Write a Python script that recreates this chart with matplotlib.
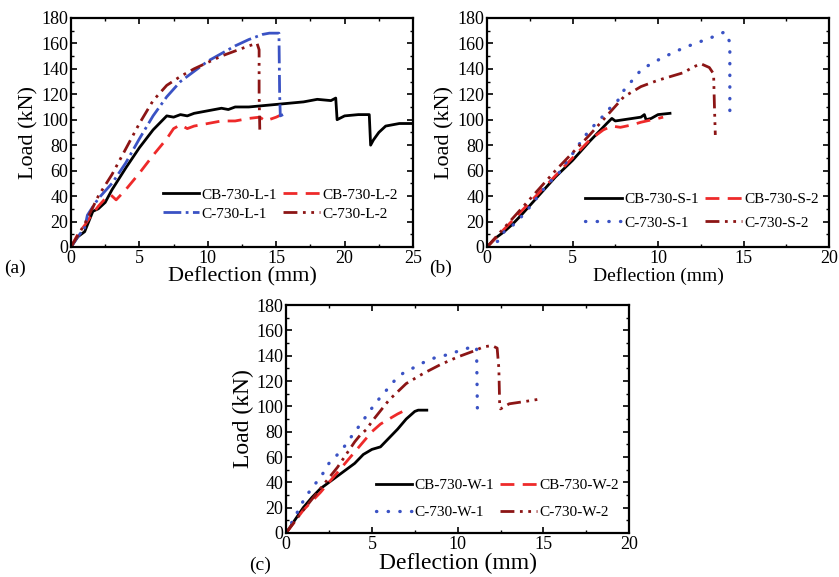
import matplotlib
matplotlib.use('Agg')
import matplotlib.pyplot as plt
from matplotlib.ticker import MultipleLocator

plt.rcParams['font.family'] = ['Liberation Serif', 'DejaVu Serif']

# ---- panel (a): L specimens ----
a_cb1_x = [0, 0.5, 1, 1.3, 1.6, 2, 2.5, 3, 4, 5, 6, 7, 7.5, 8, 8.5, 9, 10, 11, 11.5, 12, 13, 14, 15, 16, 17, 18, 19, 19.35, 19.45, 20, 21, 21.8, 21.9, 22.1, 22.5, 23, 24, 25]
a_cb1_y = [0, 8, 12, 20, 28, 30, 35, 45, 62, 78, 92, 103, 102, 104, 103, 105, 107, 109, 108, 110, 110, 111, 112, 113, 114, 116, 115, 117, 100, 103, 104, 104, 80, 84, 90, 95, 97, 97]
a_cb2_x = [0, 0.5, 1, 1.5, 2, 2.5, 2.9, 3.3, 4, 5, 6, 7, 7.5, 8, 8.5, 9, 10, 11, 12, 13, 13.8, 14.2, 15, 15.4]
a_cb2_y = [0, 10, 17, 25, 32, 38, 41, 37, 45, 58, 72, 85, 93, 96, 93, 95, 97, 99, 99, 101, 102, 99, 102, 104]
a_c1_x = [0, 0.5, 1, 1.2, 1.5, 2, 3, 4, 5, 6, 7, 8, 9, 10, 11, 12, 13, 14, 14.5, 15.2, 15.25, 15.3, 15.5]
a_c1_y = [0, 8, 15, 25, 30, 38, 50, 66, 85, 103, 118, 130, 138, 146, 152, 158, 163, 167, 168, 168, 120, 103, 104]
a_c2_x = [0, 1, 2, 3, 4, 5, 6, 7, 8, 9, 10, 11, 12, 13, 13.6, 13.75, 13.75, 13.8]
a_c2_y = [0, 18, 40, 57, 77, 97, 115, 127, 134, 140, 145, 150, 154, 158, 160, 155, 120, 92]

# ---- panel (b): S specimens ----
b_cb1_x = [0, 0.5, 1, 1.5, 2, 3, 4, 5, 6, 7, 7.3, 7.5, 8, 8.5, 9, 9.2, 9.3, 9.6, 10, 10.7]
b_cb1_y = [0, 7, 12, 18, 25, 40, 55, 68, 83, 97, 101, 99, 100, 101, 102, 104, 100, 101, 104, 105]
b_cb2_x = [0, 1, 2, 3, 4, 5, 6, 6.8, 7.3, 7.8, 8.5, 9, 10, 10.3]
b_cb2_y = [0, 14, 28, 42, 56, 70, 84, 92, 95, 94, 96, 98, 101, 102]
b_c1_x = [0, 0.7, 1, 1.6, 2.1, 2.6, 3.1, 3.6, 4.2, 4.6, 5.1, 5.5, 6, 6.6, 7.1, 7.6, 8, 8.5, 9, 9.6, 10.3, 11.1, 11.6, 12.4, 13.2, 13.9, 14.2, 14.2]
b_c1_y = [0, 5, 12, 18, 25, 33, 42, 50, 58, 66, 75, 83, 92, 100, 108, 114, 123, 131, 139, 144, 149, 154, 157, 161, 165, 169, 161, 106]
b_c2_x = [0, 1, 2, 3, 4, 5, 6, 7, 8, 9, 10, 11, 11.5, 12, 12.5, 13, 13.25, 13.3, 13.35]
b_c2_y = [0, 15, 30, 45, 60, 74, 88, 103, 118, 126, 131, 135, 137, 141, 144, 141, 136, 110, 88]

# ---- panel (c): W specimens ----
c_cb1_x = [0, 0.5, 1, 1.5, 2, 2.5, 3, 3.5, 4, 4.5, 5, 5.5, 6, 6.5, 7, 7.5, 7.7, 8.2]
c_cb1_y = [0, 10, 20, 28, 35, 40, 45, 50, 55, 62, 66, 68, 75, 82, 90, 96, 97, 97]
c_cb2_x = [0, 1, 2, 3, 4, 4.5, 5, 5.5, 6, 6.5, 6.8]
c_cb2_y = [0, 18, 32, 48, 64, 72, 80, 86, 90, 94, 96]
c_c1_x = [0, 0.4, 0.8, 1.1, 1.6, 2.1, 2.5, 3, 3.5, 3.9, 4.4, 4.8, 5.3, 5.8, 6.3, 6.8, 7.5, 8.2, 8.8, 9.5, 10.1, 10.6, 11.1, 11.15]
c_c1_y = [0, 10, 20, 28, 37, 46, 55, 62, 70, 78, 87, 95, 104, 112, 120, 126, 131, 136, 139, 141, 144, 146, 147, 97]
c_c2_x = [0, 1, 2, 3, 4, 4.3, 4.7, 5, 6, 7, 8, 9, 10, 11, 11.5, 12, 12.3, 12.4, 12.45, 12.5, 13, 14, 14.9]
c_c2_y = [0, 18, 35, 52, 72, 77, 82, 88, 105, 118, 126, 133, 139, 144, 147, 148, 146, 130, 100, 98, 102, 104, 106]

black = '#000000'
red = '#ee2a2a'
blue = '#3a52c4'
dred = '#8c1515'
ls_dash = (0, (5, 3))
ls_dd = (0, (5, 2, 1, 2, 1, 2))
ls_dot = (0, (0.1, 3.4))


def style_axes(ax, xmax):
    ax.set_xlim(0, xmax)
    ax.set_ylim(0, 180)
    ax.xaxis.set_major_locator(MultipleLocator(5))
    ax.xaxis.set_minor_locator(MultipleLocator(2.5))
    ax.yaxis.set_major_locator(MultipleLocator(20))
    ax.yaxis.set_minor_locator(MultipleLocator(10))
    ax.tick_params(which='both', direction='in', top=True, right=True, labelsize=13, pad=2)
    ax.tick_params(which='major', length=4, width=1.2)
    ax.tick_params(which='minor', length=2.5, width=1)
    for s in ax.spines.values():
        s.set_linewidth(1.6)


def add_legend(ax, anchor, spacing):
    h, l = ax.get_legend_handles_labels()
    order = [0, 2, 1, 3]  # rows: CB-1 CB-2 / C-1 C-2
    ax.legend([h[i] for i in order], [l[i] for i in order], loc='lower right',
              bbox_to_anchor=anchor, ncol=2, frameon=False, fontsize=11,
              handlelength=2.4, handletextpad=0.15, columnspacing=0.4,
              borderaxespad=0, borderpad=0, labelspacing=spacing)


fig = plt.figure(figsize=(8.39, 5.77), dpi=100)

# (a)
ax1 = fig.add_axes([0.0846, 0.572, 0.4077, 0.397])
ax1.plot(a_cb1_x, a_cb1_y, color=black, lw=2, ls='-', label='CB-730-L-1')
ax1.plot(a_cb2_x, a_cb2_y, color=red, lw=2, ls=ls_dash, label='CB-730-L-2')
ax1.plot(a_c1_x, a_c1_y, color=blue, lw=2, ls='-.', label='C-730-L-1')
ax1.plot(a_c2_x, a_c2_y, color=dred, lw=2, ls=ls_dd, label='C-730-L-2')
style_axes(ax1, 25)
ax1.set_xlabel('Deflection (mm)', fontsize=16, labelpad=0)
ax1.set_ylabel('Load (kN)', fontsize=16, labelpad=2)
add_legend(ax1, (0.955, 0.115), 0.35)
fig.text(0.005, 0.527, '(a)', fontsize=14)

# (b)
ax2 = fig.add_axes([0.5805, 0.572, 0.4076, 0.397])
ax2.plot(b_cb1_x, b_cb1_y, color=black, lw=2, ls='-', label='CB-730-S-1')
ax2.plot(b_cb2_x, b_cb2_y, color=red, lw=2, ls=ls_dash, label='CB-730-S-2')
ax2.plot(b_c1_x, b_c1_y, color=blue, lw=2.4, ls=ls_dot, dash_capstyle='round', label='C-730-S-1')
ax2.plot(b_c2_x, b_c2_y, color=dred, lw=2, ls=ls_dd, label='C-730-S-2')
style_axes(ax2, 20)
ax2.set_xlabel('Deflection (mm)', fontsize=14, labelpad=0)
ax2.set_ylabel('Load (kN)', fontsize=16, labelpad=2)
add_legend(ax2, (0.97, 0.075), 0.65)
fig.text(0.512, 0.527, '(b)', fontsize=14)

# (c)
ax3 = fig.add_axes([0.341, 0.0763, 0.409, 0.395])
ax3.plot(c_cb1_x, c_cb1_y, color=black, lw=2, ls='-', label='CB-730-W-1')
ax3.plot(c_cb2_x, c_cb2_y, color=red, lw=2, ls=ls_dash, label='CB-730-W-2')
ax3.plot(c_c1_x, c_c1_y, color=blue, lw=2.4, ls=ls_dot, dash_capstyle='round', label='C-730-W-1')
ax3.plot(c_c2_x, c_c2_y, color=dred, lw=2, ls=ls_dd, label='C-730-W-2')
style_axes(ax3, 20)
ax3.set_xlabel('Deflection (mm)', fontsize=17, labelpad=0)
ax3.set_ylabel('Load (kN)', fontsize=17, labelpad=2)
add_legend(ax3, (0.97, 0.06), 0.9)
fig.text(0.297, 0.012, '(c)', fontsize=14)

fig.savefig('out.png', dpi=100)
